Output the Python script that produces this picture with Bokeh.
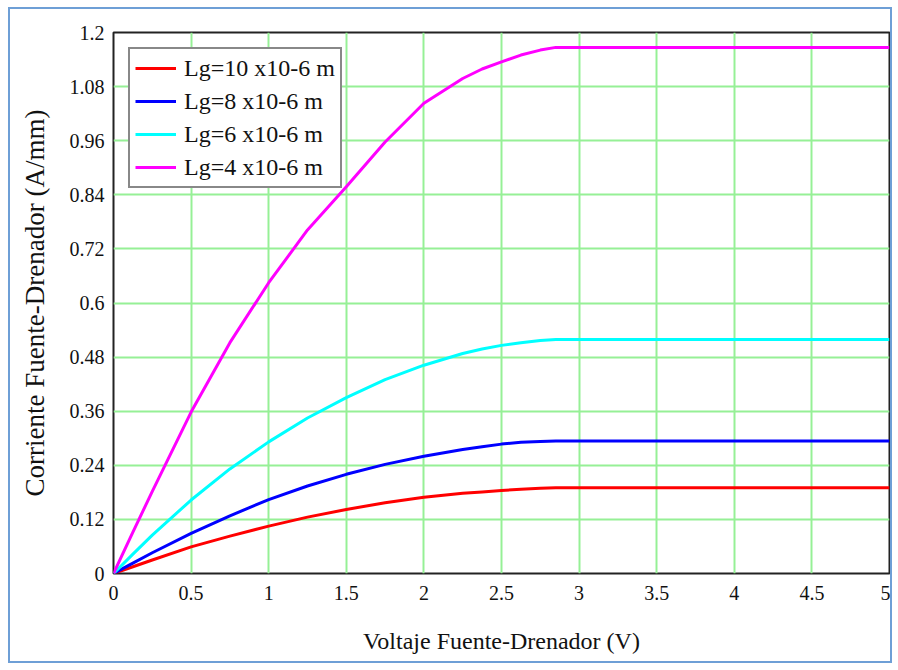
from bokeh.plotting import figure
from bokeh.models import Range1d, FixedTicker, Legend, LegendItem
from bokeh.embed import file_html
from bokeh.resources import INLINE

# ---- data ----
voltage = [0, 0.125, 0.25, 0.5, 0.75, 1.0, 1.25, 1.5, 1.75, 2.0, 2.25, 2.375, 2.5, 2.625, 2.75, 2.85, 5.0]
i_lg10 = [0, 0.015, 0.030, 0.059, 0.083, 0.105, 0.125, 0.142, 0.157, 0.169, 0.178, 0.181, 0.184, 0.187, 0.189, 0.190, 0.190]
i_lg8 = [0, 0.023, 0.046, 0.089, 0.128, 0.164, 0.194, 0.220, 0.242, 0.260, 0.275, 0.281, 0.287, 0.291, 0.293, 0.294, 0.294]
i_lg6 = [0, 0.043, 0.085, 0.163, 0.232, 0.292, 0.345, 0.390, 0.430, 0.462, 0.488, 0.498, 0.506, 0.512, 0.517, 0.519, 0.519]
i_lg4 = [0, 0.092, 0.182, 0.358, 0.512, 0.645, 0.762, 0.858, 0.957, 1.043, 1.098, 1.119, 1.135, 1.150, 1.161, 1.167, 1.167]

series_names = ["Lg=10 x10-6 m", "Lg=8 x10-6 m", "Lg=6 x10-6 m", "Lg=4 x10-6 m"]
series_values = [i_lg10, i_lg8, i_lg6, i_lg4]
series_colors = ["#ff0000", "#0000ff", "#00ffff", "#ff00ff"]

x_ticks = [0, 0.5, 1.0, 1.5, 2.0, 2.5, 3.0, 3.5, 4.0, 4.5, 5.0]
x_tick_labels = ["0", "0.5", "1", "1.5", "2", "2.5", "3", "3.5", "4", "4.5", "5"]
y_ticks = [0, 0.12, 0.24, 0.36, 0.48, 0.6, 0.72, 0.84, 0.96, 1.08, 1.2]
y_tick_labels = ["0", "0.12", "0.24", "0.36", "0.48", "0.6", "0.72", "0.84", "0.96", "1.08", "1.2"]

x_label = "Voltaje Fuente-Drenador (V)"
y_label = "Corriente Fuente-Drenador (A/mm)"

FONT = "Liberation Serif"

p = figure(width=884, height=656, output_backend="svg", toolbar_location=None,
           x_range=Range1d(0, 5), y_range=Range1d(0, 1.2),
           min_border_left=103, min_border_top=23, min_border_right=5, min_border_bottom=92,
           background_fill_color="white", border_fill_color="white")
p.styles = {"border": "2px solid #6e9fd6", "margin-left": "8px", "margin-top": "7px"}

p.outline_line_color = "#222222"
p.outline_line_width = 2

p.xaxis.ticker = FixedTicker(ticks=x_ticks)
p.yaxis.ticker = FixedTicker(ticks=y_ticks)
p.xaxis.major_label_overrides = {t: l for t, l in zip(x_ticks, x_tick_labels)}
p.yaxis.major_label_overrides = {t: l for t, l in zip(y_ticks, y_tick_labels)}

for ax in (p.xaxis, p.yaxis):
    ax.axis_line_color = None
    ax.major_tick_line_color = None
    ax.minor_tick_line_color = None
    ax.major_label_text_font = FONT
    ax.major_label_text_font_size = "20px"
    ax.major_label_text_color = "#111111"
    ax.axis_label_text_font = FONT
    ax.axis_label_text_font_style = "normal"
    ax.axis_label_text_color = "#111111"

p.xaxis.axis_label = x_label
p.yaxis.axis_label = y_label
p.xaxis.axis_label_text_font_size = "24px"
p.yaxis.axis_label_text_font_size = "27px"
p.xaxis.major_label_standoff = 6
p.yaxis.major_label_standoff = 3
p.xaxis.axis_label_standoff = 25
p.yaxis.axis_label_standoff = 17

for g in (p.xgrid, p.ygrid):
    g.grid_line_color = "#96f096"
    g.grid_line_width = 2

items = []
for name, vals, col in zip(series_names, series_values, series_colors):
    r = p.line(voltage, vals, line_color=col, line_width=3)
    items.append(LegendItem(label=name, renderers=[r]))

legend = Legend(items=items, location="top_left")
legend.margin = 15
legend.padding = 5
legend.spacing = 5
legend.label_height = 28
legend.glyph_height = 28
legend.glyph_width = 41
legend.label_standoff = 8
legend.label_text_font = FONT
legend.label_text_font_size = "24px"
legend.label_text_color = "#111111"
legend.border_line_color = "#111111"
legend.border_line_width = 2
legend.background_fill_color = "white"
legend.background_fill_alpha = 1.0
p.add_layout(legend)

open("out.html", "w").write(file_html(p, INLINE))
